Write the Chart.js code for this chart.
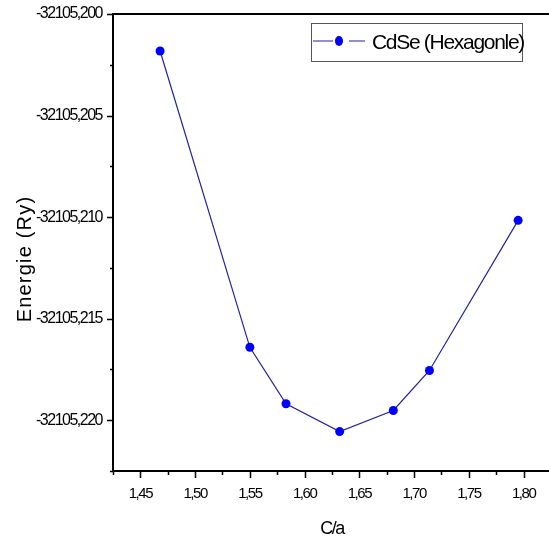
<!DOCTYPE html>
<html>
<head>
<meta charset="utf-8">
<script src="https://cdn.jsdelivr.net/npm/chart.js@4.4.1/dist/chart.umd.min.js"></script>
<style>
  html, body { margin: 0; padding: 0; background: #fff; overflow: hidden; }
  #wrap { width: 551px; height: 541px; }
</style>
</head>
<body>
<div id="wrap"><canvas id="energie" width="551" height="541"></canvas></div>
<script>
const ratioCA = [1.468, 1.550, 1.583, 1.632, 1.681, 1.714, 1.795];
const energie = [-32105.20182, -32105.21641, -32105.21919, -32105.22056, -32105.21952, -32105.21755, -32105.21016];
const xTicks = [1.45, 1.50, 1.55, 1.60, 1.65, 1.70, 1.75, 1.80];
const yTicks = [-32105.220, -32105.215, -32105.210, -32105.205, -32105.200];
const seriesName = 'CdSe (Hexagonle)';
const xTitle = 'C/a';
const yTitle = 'Energie (Ry)';

const sans = "'Liberation Sans', Arial, sans-serif";
const isMajor = (list, v) => list.some(t => Math.abs(t - v) < 1e-7);

// minor ticks sit halfway between the labelled ones
const xAll = [xTicks[0] - 0.025];
xTicks.forEach(t => xAll.push(t, t + 0.025));
const yAll = [yTicks[0] - 0.0025];
yTicks.forEach((t, i) => { yAll.push(t); if (i < yTicks.length - 1) yAll.push(t + 0.0025); });

// no narrow font installed, so squeeze the letters a bit instead
const squeeze = {
    id: 'squeeze',
    beforeDraw(chart) { chart.ctx.letterSpacing = '-1.5px'; },
    afterDraw(chart) { chart.ctx.letterSpacing = '0px'; }
};

const extras = {
    id: 'extras',
    afterDraw(chart) {
        const {ctx, chartArea: a, scales: {x, y}} = chart;
        const ds = chart.data.datasets[0];
        ctx.save();
        ctx.strokeStyle = '#000';
        ctx.lineWidth = 1.5;
        ctx.beginPath();
        x.ticks.forEach(t => {
            const px = Math.round(x.getPixelForValue(t.value)) + 0.5;
            ctx.moveTo(px, a.bottom);
            ctx.lineTo(px, a.bottom + (isMajor(xTicks, t.value) ? 7 : 4));
        });
        y.ticks.forEach(t => {
            const py = Math.round(y.getPixelForValue(t.value)) + 0.5;
            ctx.moveTo(a.left, py);
            ctx.lineTo(a.left - (isMajor(yTicks, t.value) ? 6 : 3), py);
        });
        ctx.stroke();

        // top frame line
        ctx.lineWidth = 2;
        ctx.beginPath();
        ctx.moveTo(a.left, a.top);
        ctx.lineTo(a.right, a.top);
        ctx.stroke();

        // legend box
        ctx.lineWidth = 1;
        ctx.strokeStyle = '#555';
        ctx.strokeRect(311.5, 23.5, 211, 38);
        ctx.strokeStyle = ds.borderColor;
        ctx.lineWidth = 1.2;
        ctx.beginPath();
        ctx.moveTo(313, 41); ctx.lineTo(333, 41);
        ctx.moveTo(349, 41); ctx.lineTo(365, 41);
        ctx.stroke();
        ctx.fillStyle = ds.pointBackgroundColor;
        ctx.beginPath();
        ctx.ellipse(339, 41, 4, 5, 0, 0, Math.PI * 2);
        ctx.fill();
        ctx.fillStyle = '#000';
        ctx.font = '21px ' + sans;
        ctx.letterSpacing = '-1.3px';
        ctx.textBaseline = 'middle';
        ctx.textAlign = 'left';
        ctx.fillText(ds.label, 372, 43);

        // y axis title
        ctx.translate(25, 259);
        ctx.rotate(-Math.PI / 2);
        ctx.font = '20px ' + sans;
        ctx.letterSpacing = '1.2px';
        ctx.textAlign = 'center';
        ctx.fillText(yTitle, 0, 0);
        ctx.restore();
    }
};

const noPad = scale => {
    scale.paddingLeft = scale.paddingRight = 0;
    scale.paddingTop = scale.paddingBottom = 0;
};

new Chart(document.getElementById('energie'), {
    type: 'scatter',
    data: {
        datasets: [{
            label: seriesName,
            data: ratioCA.map((c, i) => ({x: c, y: energie[i]})),
            showLine: true,
            borderColor: '#22229a',
            borderWidth: 1.2,
            pointBackgroundColor: '#0000ff',
            pointBorderColor: '#0000ff',
            pointBorderWidth: 0,
            pointRadius: 4.5
        }]
    },
    options: {
        responsive: false,
        animation: false,
        layout: { autoPadding: false, padding: { top: 14, right: 0, left: 0, bottom: 0 } },
        plugins: {
            legend: { display: false },
            tooltip: { enabled: false }
        },
        scales: {
            x: {
                type: 'linear',
                min: xAll[0],
                max: xAll[xAll.length - 1],
                afterBuildTicks: scale => { scale.ticks = xAll.map(v => ({value: v})); },
                afterFit: scale => { scale.height = 70; noPad(scale); },
                grid: { drawOnChartArea: false, drawTicks: false },
                border: { color: '#000', width: 2 },
                ticks: {
                    padding: 14,
                    autoSkip: false,
                    maxRotation: 0,
                    color: '#000',
                    font: { family: sans, size: 15 },
                    callback: v => isMajor(xTicks, v) ? v.toFixed(2).replace('.', ',') : ''
                },
                title: {
                    display: true,
                    text: xTitle,
                    color: '#000',
                    font: { family: sans, size: 18 },
                    padding: { top: 0, bottom: 1 }
                }
            },
            y: {
                type: 'linear',
                min: yAll[0],
                max: yAll[yAll.length - 1],
                afterBuildTicks: scale => { scale.ticks = yAll.map(v => ({value: v})); },
                afterFit: scale => { scale.width = 113; noPad(scale); },
                grid: { drawOnChartArea: false, drawTicks: false },
                border: { color: '#000', width: 2 },
                ticks: {
                    padding: 11,
                    autoSkip: false,
                    color: '#000',
                    font: { family: sans, size: 16 },
                    callback: v => isMajor(yTicks, v) ? v.toFixed(3).replace('.', ',') : ''
                }
            }
        }
    },
    plugins: [squeeze, extras]
});
</script>
</body>
</html>
